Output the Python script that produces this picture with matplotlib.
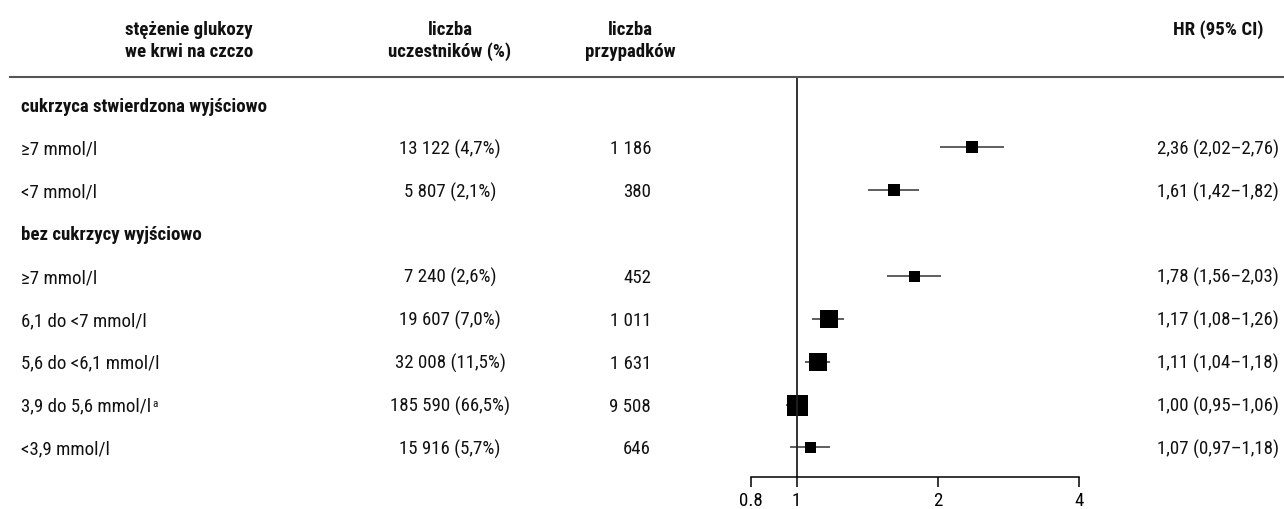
import numpy as np
import matplotlib
matplotlib.use("Agg")
import matplotlib.pyplot as plt
from matplotlib import font_manager, transforms
from matplotlib.lines import Line2D
from matplotlib.ticker import NullLocator

# look for a narrow / condensed sans
narrow = None
for pref in ["liberation sans narrow", "roboto condensed", "dejavu sans condensed",
             "open sans condensed", "noto sans condensed", "condensed", "narrow"]:
    for f in font_manager.fontManager.ttflist:
        key = (f.name + " " + f.fname).lower().replace("-", " ").replace("_", " ")
        key2 = key.replace(" ", "")
        if pref in key or pref.replace(" ", "") in key2:
            if "oblique" in key or "italic" in key:
                continue
            narrow = f
            break
    if narrow is not None:
        break

if narrow is not None:
    family = narrow.name
    stretch = narrow.stretch
    fs = 13.6
else:
    family = "Roboto"
    stretch = "normal"
    fs = 11.5
plt.rcParams['font.family'] = [family, 'DejaVu Sans']
plt.rcParams['font.stretch'] = stretch

# data
group_labels = ["cukrzyca stwierdzona wyjściowo", "bez cukrzycy wyjściowo"]
row_labels = ["≥7 mmol/l", "<7 mmol/l", "≥7 mmol/l", "6,1 do <7 mmol/l",
              "5,6 do <6,1 mmol/l", "3,9 do 5,6 mmol/l", "<3,9 mmol/l"]
footnote_row = 5
participants = [13122, 5807, 7240, 19607, 32008, 185590, 15916]
percent = [4.7, 2.1, 2.6, 7.0, 11.5, 66.5, 5.7]
cases = [1186, 380, 452, 1011, 1631, 9508, 646]
hr = [2.36, 1.61, 1.78, 1.17, 1.11, 1.00, 1.07]
hr_lo = [2.02, 1.42, 1.56, 1.08, 1.04, 0.95, 0.97]
hr_hi = [2.76, 1.82, 2.03, 1.26, 1.18, 1.06, 1.18]
xticks = [0.8, 1, 2, 4]
xticklabels = ["0.8", "1", "2", "4"]

# layout
group_pos = [-1, 2]
row_pos = [0, 1, 3, 4, 5, 6, 7]
box_px = [12, 12, 11, 18, 18, 21, 11]

W, H = 1284, 509


def fx(px):
    return px / W


def fy(py):
    return 1 - py / H


def pl_int(n):
    return f"{n:,}".replace(",", " ")


def pl_dec(x, d=2):
    return f"{x:.{d}f}".replace(".", ",")


fig = plt.figure(figsize=(W / 100, H / 100), dpi=100)
ax = fig.add_axes([fx(751), fy(476.7), (1079.3 - 751) / W, (476.7 - 76.7) / H])
ax.set_xscale('log')
ax.set_xlim(0.8, 4)
ax.set_ylim(7.683, -1.652)

for i, k in enumerate(row_pos):
    ax.plot([hr_lo[i], hr_hi[i]], [k, k], color='#333333', lw=1.1, solid_capstyle='butt')
    ax.plot(hr[i], k, marker='s', ms=box_px[i] * 0.72, color='black', mew=0)
ax.axvline(1, color='#222222', lw=1.3)

for s in ['top', 'right', 'left']:
    ax.spines[s].set_visible(False)
ax.spines['bottom'].set_linewidth(1.1)
ax.set_xticks(xticks)
ax.set_xticklabels(xticklabels, fontsize=fs)
ax.xaxis.set_minor_locator(NullLocator())
ax.tick_params(axis='x', direction='out', length=7.2, width=1.1, pad=4)
ax.set_yticks([])

fig.add_artist(Line2D([fx(10), 1], [fy(76.7), fy(76.7)], transform=fig.transFigure,
                      color='#555555', lw=1.5))

# headers
hdr = dict(fontsize=fs, fontweight='bold', va='baseline', color='#111111')
fig.text(fx(189), fy(34.7), "stężenie glukozy", ha='center', **hdr)
fig.text(fx(189), fy(56.7), "we krwi na czczo", ha='center', **hdr)
fig.text(fx(450), fy(34.7), "liczba", ha='center', **hdr)
fig.text(fx(450), fy(56.7), "uczestników (%)", ha='center', **hdr)
fig.text(fx(630), fy(34.7), "liczba", ha='center', **hdr)
fig.text(fx(630), fy(56.7), "przypadków", ha='center', **hdr)
fig.text(fx(1218), fy(34.7), "HR (95% CI)", ha='center', **hdr)

trans = transforms.blended_transform_factory(fig.transFigure, ax.transData)
tb = transforms.offset_copy(trans, fig=fig, y=-7, units='dots')

for g, k in zip(group_labels, group_pos):
    ax.text(fx(21), k, g, transform=tb, ha='left', va='baseline',
            fontsize=fs, fontweight='bold', color='#111111')

for i, k in enumerate(row_pos):
    t = ax.text(fx(21), k, row_labels[i], transform=tb, ha='left', va='baseline',
                fontsize=fs, color='#111111')
    if i == footnote_row:
        ax.annotate("a", xy=(1, 0.45), xycoords=t, xytext=(1, 0), textcoords='offset points',
                    ha='left', va='baseline', fontsize=fs * 0.6, color='#111111')
    ax.text(fx(450), k, f"{pl_int(participants[i])} ({pl_dec(percent[i], 1)}%)",
            transform=tb, ha='center', va='baseline', fontsize=fs, color='#111111')
    ax.text(fx(651), k, pl_int(cases[i]), transform=tb, ha='right', va='baseline',
            fontsize=fs, color='#111111')
    ax.text(fx(1218), k, f"{pl_dec(hr[i])} ({pl_dec(hr_lo[i])}–{pl_dec(hr_hi[i])})",
            transform=tb, ha='center', va='baseline', fontsize=fs, color='#111111')

fig.savefig("out.png", dpi=100)
